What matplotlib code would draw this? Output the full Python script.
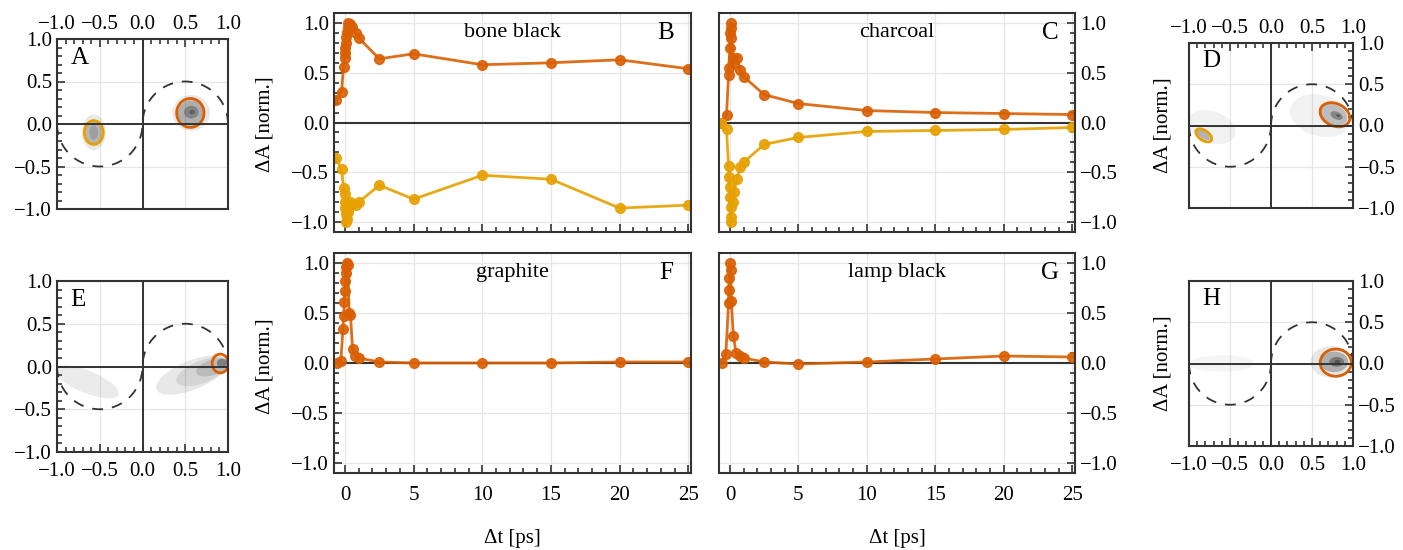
import numpy as np
import matplotlib
matplotlib.use('Agg')
import matplotlib.pyplot as plt
from matplotlib.patches import Ellipse, Arc
from matplotlib.ticker import MultipleLocator

plt.rcParams['font.family'] = ['Liberation Serif', 'DejaVu Serif']
plt.rcParams['font.size'] = 15

ORANGE = '#d95f02'
YELLOW = '#e6a000'
DARK = '#333333'

# time-resolved traces (delay in ps, normalised dA)
t_bone = [-0.65, -0.25, -0.1, 0.0, 0.0, 0.0, 0.05, 0.1, 0.15, 0.2, 0.25, 0.35,
          0.5, 0.8, 1.0, 2.5, 5, 10, 15, 20, 25]
bone_orange = [0.23, 0.31, 0.56, 0.65, 0.7, 0.75, 0.8, 0.86, 0.91, 0.96, 1.0, 0.99,
               0.96, 0.9, 0.85, 0.64, 0.69, 0.58, 0.60, 0.63, 0.54]
bone_yellow = [-0.36, -0.47, -0.66, -0.72, -0.8, -0.86, -0.92, -1.0, -0.97, -0.9, -0.86,
               -0.8, -0.82, -0.83, -0.8, -0.63, -0.77, -0.53, -0.57, -0.86, -0.83]

t_char = [-0.65, -0.25, -0.1, -0.1, 0.0, 0.0, 0.05, 0.05, 0.1, 0.2, 0.3, 0.5,
          0.75, 1.0, 2.5, 5, 10, 15, 20, 25]
char_orange = [0.0, 0.08, 0.48, 0.55, 0.75, 0.9, 1.0, 0.95, 0.85, 0.65, 0.6, 0.65,
               0.53, 0.46, 0.28, 0.19, 0.12, 0.10, 0.09, 0.08]
char_yellow = [-0.01, -0.07, -0.44, -0.55, -0.65, -0.75, -1.0, -0.95, -0.85, -0.8,
               -0.7, -0.57, -0.45, -0.4, -0.22, -0.15, -0.09, -0.08, -0.07, -0.05]

t_graph = [-0.6, -0.3, -0.15, -0.1, -0.05, 0.0, 0.0, 0.05, 0.1, 0.15, 0.2, 0.3,
           0.4, 0.55, 0.75, 1.0, 2.5, 5, 10, 15, 20, 25]
graph_orange = [0.0, 0.02, 0.34, 0.47, 0.61, 0.72, 0.82, 0.9, 0.96, 1.0, 0.98, 0.5,
                0.48, 0.14, 0.07, 0.05, 0.01, 0.0, 0.0, 0.0, 0.01, 0.01]

t_lamp = [-0.6, -0.3, -0.1, -0.1, -0.05, 0.0, 0.05, 0.1, 0.25, 0.45, 0.75, 1.0,
          2.5, 5, 10, 15, 20, 25]
lamp_orange = [0.0, 0.09, 0.6, 0.73, 0.85, 1.0, 0.93, 0.62, 0.27, 0.1, 0.07, 0.05,
               0.01, -0.01, 0.01, 0.04, 0.07, 0.06]

# phasor panels: gray point-cloud density (cx, cy, w, h, angle, alpha)
cloud_A = [(-0.57, -0.1, 0.28, 0.42, 0, 0.12), (-0.57, -0.1, 0.19, 0.3, 0, 0.3),
           (-0.57, -0.1, 0.1, 0.17, 0, 0.2),
           (0.57, 0.13, 0.44, 0.42, 0, 0.12), (0.57, 0.13, 0.31, 0.3, 0, 0.35),
           (0.57, 0.14, 0.17, 0.15, 0, 0.4), (0.58, 0.14, 0.06, 0.05, 0, 0.6)]
cloud_D = [(0.6, 0.12, 0.75, 0.5, -15, 0.07), (-0.72, -0.02, 0.6, 0.38, -20, 0.07),
           (0.76, 0.13, 0.36, 0.25, -25, 0.3), (0.8, 0.12, 0.16, 0.09, -25, 0.45),
           (0.82, 0.12, 0.05, 0.03, -25, 0.7), (-0.83, -0.11, 0.2, 0.09, -35, 0.35)]
cloud_E = [(0.58, -0.1, 0.9, 0.34, 22, 0.12), (0.7, -0.06, 0.65, 0.26, 22, 0.12),
           (0.82, -0.01, 0.4, 0.18, 18, 0.18), (0.93, 0.04, 0.12, 0.1, 0, 0.5),
           (-0.65, -0.18, 0.8, 0.26, -22, 0.1)]
cloud_H = [(-0.6, 0.0, 0.8, 0.2, 0, 0.05), (0.74, 0.02, 0.52, 0.38, 0, 0.12),
           (0.77, 0.02, 0.34, 0.25, 0, 0.35), (0.8, 0.02, 0.18, 0.12, 0, 0.5),
           (0.81, 0.02, 0.07, 0.05, 0, 0.7)]

# fitted ellipses (cx, cy, w, h, angle, colour)
ell_A = [(-0.57, -0.1, 0.22, 0.28, 0, YELLOW), (0.56, 0.13, 0.32, 0.34, 0, ORANGE)]
ell_D = [(-0.82, -0.12, 0.22, 0.12, -35, YELLOW), (0.78, 0.13, 0.38, 0.27, -25, ORANGE)]
ell_E = [(0.91, 0.035, 0.19, 0.22, 0, ORANGE)]
ell_H = [(0.79, 0.01, 0.38, 0.33, 0, ORANGE)]

fig = plt.figure(figsize=(14.03, 5.5), dpi=100)


def px(x0, y0, x1, y1):
    return [x0 / 1403, 1 - y1 / 550, (x1 - x0) / 1403, (y1 - y0) / 550]


def style(ax):
    for s in ax.spines.values():
        s.set_color(DARK)
        s.set_linewidth(1.5)
    ax.grid(True, color='#e6e6e6', lw=0.9)
    ax.set_axisbelow(True)
    ax.tick_params(which='both', direction='in', color=DARK, width=1.2)
    ax.tick_params(which='major', length=6)
    ax.tick_params(which='minor', length=3.5)


def phasor(rect, label, clouds, ells, xtop, yright):
    ax = fig.add_axes(px(*rect))
    style(ax)
    ax.set_xlim(-1, 1)
    ax.set_ylim(-1, 1)
    ax.xaxis.set_major_locator(MultipleLocator(0.5))
    ax.yaxis.set_major_locator(MultipleLocator(0.5))
    ax.xaxis.set_minor_locator(MultipleLocator(0.1))
    ax.yaxis.set_minor_locator(MultipleLocator(0.1))
    for cx, cy, w, h, a, al in clouds:
        ax.add_patch(Ellipse((cx, cy), w, h, angle=a, color='#444444', alpha=al, lw=0))
    ax.add_patch(Arc((0.5, 0), 1, 1, theta1=0, theta2=180, ls=(0, (6, 5)), color=DARK, lw=1.3))
    ax.add_patch(Arc((-0.5, 0), 1, 1, theta1=180, theta2=360, ls=(0, (6, 5)), color=DARK, lw=1.3))
    ax.axhline(0, color=DARK, lw=1.4)
    ax.axvline(0, color=DARK, lw=1.4)
    for cx, cy, w, h, a, c in ells:
        ax.add_patch(Ellipse((cx, cy), w, h, angle=a, fill=False, ec=c, lw=2))
    ax.text(0.08, 0.89, label, transform=ax.transAxes, fontsize=18, va='center')
    if xtop:
        ax.tick_params(axis='x', which='both', top=True, bottom=False, labeltop=True, labelbottom=False)
    else:
        ax.tick_params(axis='x', pad=7)
    if yright:
        ax.tick_params(axis='y', which='both', right=True, left=False, labelright=True, labelleft=False)
        ax.set_ylabel('ΔA [norm.]', fontsize=15, labelpad=12)
    else:
        ax.yaxis.set_label_position('right')
        ax.set_ylabel('ΔA [norm.]', fontsize=15, labelpad=20)
    return ax


def trace(rect, name, label, series, xlabels, yright):
    ax = fig.add_axes(px(*rect))
    style(ax)
    ax.set_xlim(-0.8, 25.2)
    ax.set_ylim(-1.1, 1.1)
    ax.xaxis.set_major_locator(MultipleLocator(5))
    ax.xaxis.set_minor_locator(MultipleLocator(1))
    ax.yaxis.set_major_locator(MultipleLocator(0.5))
    ax.yaxis.set_minor_locator(MultipleLocator(0.1))
    ax.axhline(0, color=DARK, lw=1.5)
    for t, y, c in series:
        ax.plot(t, y, '-o', color=c, lw=2, ms=7, alpha=0.9)
    ax.text(0.5, 0.91, name, transform=ax.transAxes, ha='center', va='center', fontsize=16)
    ax.text(0.93, 0.91, label, transform=ax.transAxes, ha='center', va='center', fontsize=18)
    if not xlabels:
        ax.tick_params(axis='x', labelbottom=False)
    else:
        ax.set_xlabel('Δt [ps]', fontsize=15, labelpad=18)
        ax.tick_params(axis='x', pad=9)
    if yright:
        ax.tick_params(axis='y', which='both', right=True, left=False, labelright=True, labelleft=False)
    return ax


phasor((57, 39, 228, 209), 'A', cloud_A, ell_A, True, False)
phasor((1189, 43, 1353, 208), 'D', cloud_D, ell_D, True, True)
phasor((57, 281, 228, 452), 'E', cloud_E, ell_E, False, False)
phasor((1189, 281, 1353, 446), 'H', cloud_H, ell_H, False, True)

trace((334, 13, 691, 232), 'bone black', 'B',
      [(t_bone, bone_orange, ORANGE), (t_bone, bone_yellow, YELLOW)], False, False)
trace((719, 13, 1075, 232), 'charcoal', 'C',
      [(t_char, char_orange, ORANGE), (t_char, char_yellow, YELLOW)], False, True)
trace((334, 253, 691, 473), 'graphite', 'F', [(t_graph, graph_orange, ORANGE)], True, False)
trace((719, 253, 1075, 473), 'lamp black', 'G', [(t_lamp, lamp_orange, ORANGE)], True, True)

fig.savefig('out.png', dpi=100)
